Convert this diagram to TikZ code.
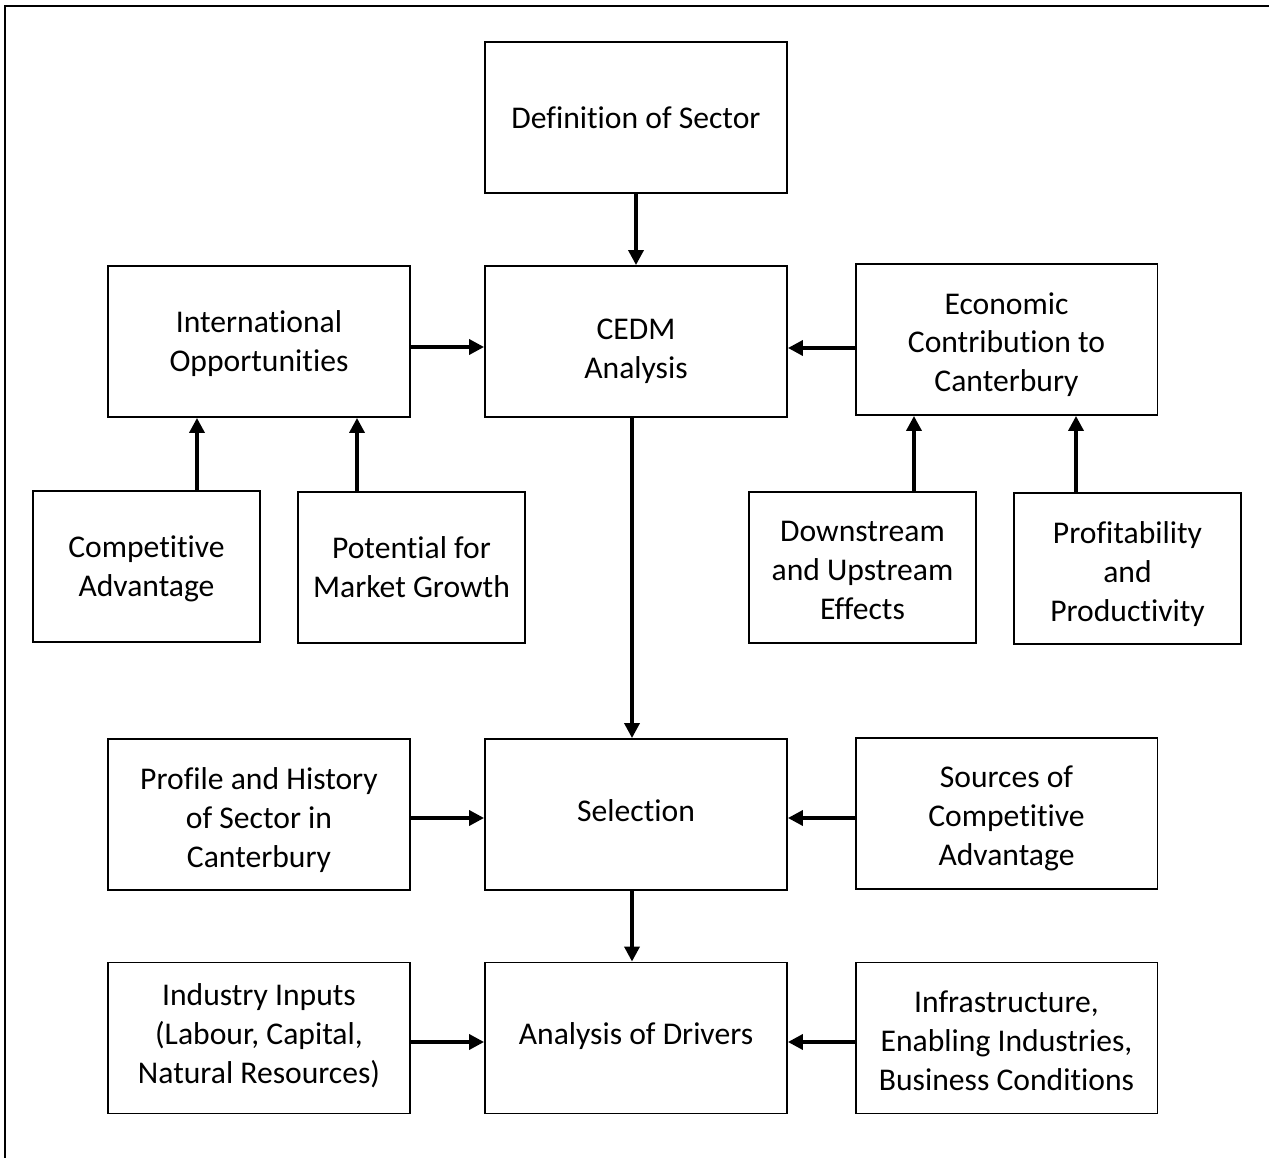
\documentclass[tikz,border=0pt]{standalone}
\usepackage{fontspec}
\setmainfont[Ligatures={NoCommon}]{Carlito}
\usetikzlibrary{arrows.meta}
% one drawing unit
\newdimen\pxu \pxu=0.567pt
% centred box text, moved down by #1 units from the box centre
\newcommand\boxtext[2]{\makebox[0pt]{\raisebox{\dimexpr-5.9pt-#1\pxu\relax}[0pt][0pt]{%
  \parbox[c]{8cm}{\centering\strut #2\strut}}}}
\begin{document}
\begin{tikzpicture}[x=0.02cm,y=-0.02cm,
  box/.style={draw,line width=1.1pt,rectangle,
    font=\fontsize{18}{22}\selectfont,inner sep=0pt},
  wide/.style={box,minimum width=6.04cm,minimum height=3.02cm},
  narrow/.style={box,minimum width=4.54cm,minimum height=3.02cm},
  arr/.style={line width=2pt,-{Triangle[width=8.5pt,length=8.5pt]}}]
\useasboundingbox (0,0) rectangle (1269,1158);
% frame
\draw[line width=1.5pt] (5,1170) -- (5,6) -- (1280,6);

% central column
\node[wide] (def) at (636,117.5) {\boxtext{0}{Definition of Sector}};
\node[wide] (cedm) at (636,341.5) {\boxtext{7}{CEDM\\Analysis}};
\node[wide] (sel) at (636,814.5) {\boxtext{-3.5}{Selection}};
\node[wide] (drv) at (636,1038) {\boxtext{-4}{Analysis of Drivers}};

% upper wings
\node[wide] (intopp) at (259,341.5) {\boxtext{0}{International\\Opportunities}};
\node[wide] (econ) at (1006.5,339.5) {\boxtext{3}{Economic\\Contribution to\\Canterbury}};

% feeders of the upper wings
\node[narrow] (compadv) at (146.5,566.5) {\boxtext{0}{Competitive\\Advantage}};
\node[narrow] (potential) at (411.5,567.5) {\boxtext{0}{Potential for\\Market Growth}};
\node[narrow] (down) at (862.5,567.5) {\boxtext{2.5}{Downstream\\and Upstream\\Effects}};
\node[narrow] (profit) at (1127.5,568.5) {\boxtext{3.5}{Profitability\\and\\Productivity}};

% lower wings
\node[wide] (profile) at (259,814.5) {\boxtext{3.5}{Profile and History\\of Sector in\\Canterbury}};
\node[wide] (sources) at (1006.5,813.5) {\boxtext{2.5}{Sources of\\Competitive\\Advantage}};
\node[wide] (inputs) at (259,1038) {\boxtext{-4}{Industry Inputs\\(Labour, Capital,\\Natural Resources)}};
\node[wide] (infra) at (1006.5,1038) {\boxtext{3}{Infrastructure,\\Enabling Industries,\\Business Conditions}};

% connectors
\draw[arr] (def) -- (cedm);
\draw[arr] ([yshift=-0.11cm]intopp.east) -- ([yshift=-0.11cm]intopp.east -| cedm.west);
\draw[arr] ([yshift=-0.17cm]econ.west) -- ([yshift=-0.17cm]econ.west -| cedm.east);
\draw[arr] ([xshift=1.01cm]compadv.north) -- ([xshift=1.01cm]compadv.north |- intopp.south);
\draw[arr] ([xshift=-1.09cm]potential.north) -- ([xshift=-1.09cm]potential.north |- intopp.south);
\draw[arr] ([xshift=1.03cm]down.north) -- ([xshift=1.03cm]down.north |- econ.south);
\draw[arr] ([xshift=-1.03cm]profit.north) -- ([xshift=-1.03cm]profit.north |- econ.south);
\draw[arr] ([xshift=-0.08cm]cedm.south) -- ([xshift=-0.08cm]sel.north);
\draw[arr] ([yshift=-0.07cm]profile.east) -- ([yshift=-0.07cm]profile.east -| sel.west);
\draw[arr] ([yshift=-0.09cm]sources.west) -- ([yshift=-0.09cm]sources.west -| sel.east);
\draw[arr] ([xshift=-0.08cm]sel.south) -- ([xshift=-0.08cm]drv.north);
\draw[arr] ([yshift=-0.08cm]inputs.east) -- ([yshift=-0.08cm]inputs.east -| drv.west);
\draw[arr] ([yshift=-0.08cm]infra.west) -- ([yshift=-0.08cm]infra.west -| drv.east);
\end{tikzpicture}
\end{document}
